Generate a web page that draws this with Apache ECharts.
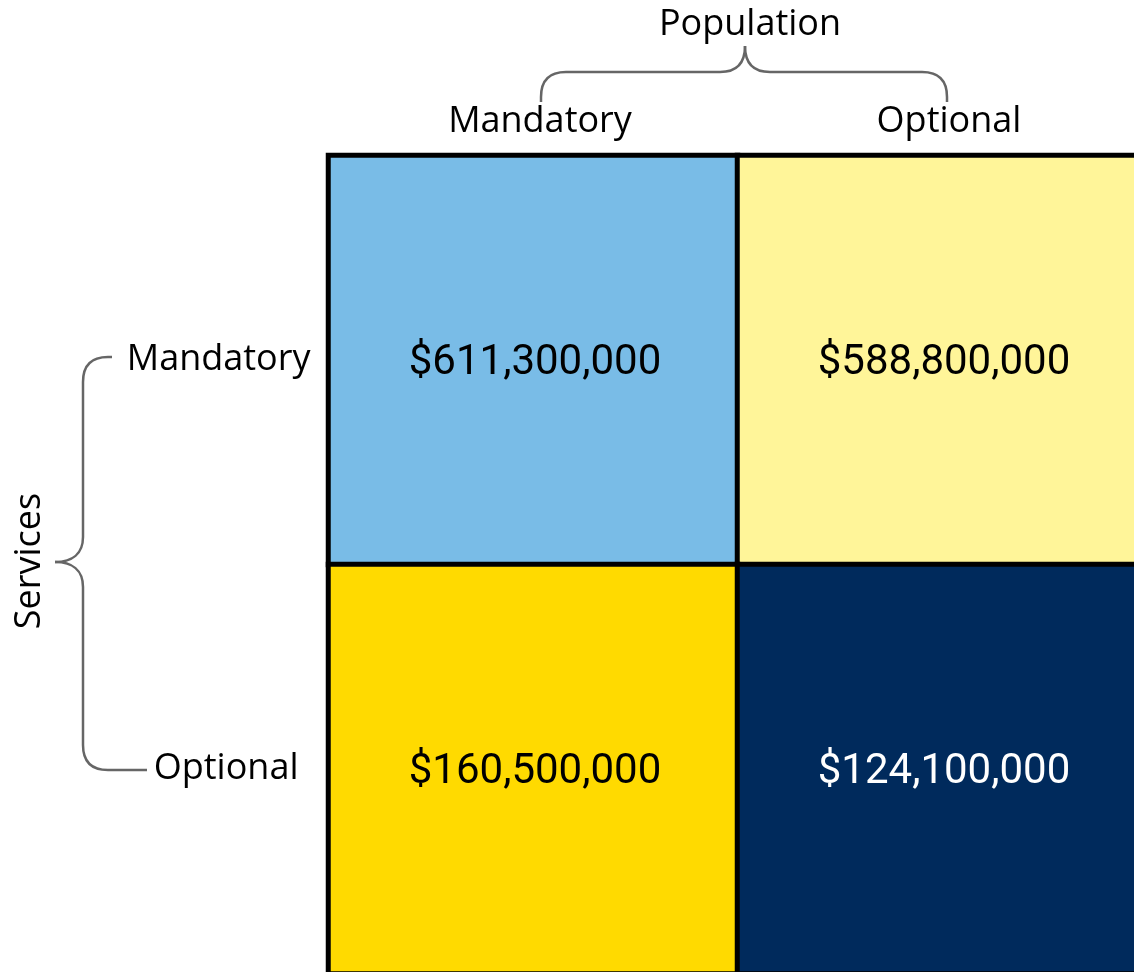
<!DOCTYPE html>
<html>
<head>
<meta charset="utf-8">
<script src="https://cdn.jsdelivr.net/npm/echarts@6/dist/echarts.min.js"></script>
<style>html,body{margin:0;padding:0;background:#fff}#c{width:1134px;height:972px}</style>
</head>
<body>
<div id="c"></div>
<script>
// ---- data ----
const populationCats = ['Mandatory', 'Optional'];   // columns (x)
const serviceCats = ['Mandatory', 'Optional'];      // rows (y)
// values: [populationIndex, serviceIndex, dollars]
const cellValues = [
  [0, 0, 611300000],
  [1, 0, 588800000],
  [0, 1, 160500000],
  [1, 1, 124100000]
];
const xTitle = 'Population';
const yTitle = 'Services';

// ---- styles ----
const cellColors = ['#79BCE7', '#FFF599', '#FFDA00', '#002A5C'];
const labelColors = ['#000', '#000', '#000', '#fff'];
const labelFont = '"Open Sans", "Noto Sans", sans-serif';
const braceStyle = { fill: null, stroke: '#666', lineWidth: 2.5 };

function L(x1, y1, x2, y2) { return { type: 'line', shape: { x1, y1, x2, y2 }, style: braceStyle, silent: true }; }
function Q(x1, y1, cx, cy, x2, y2) { return { type: 'bezierCurve', shape: { x1, y1, cpx1: cx, cpy1: cy, x2, y2 }, style: braceStyle, silent: true }; }
function C(x1, y1, c1x, c1y, c2x, c2y, x2, y2) { return { type: 'bezierCurve', shape: { x1, y1, cpx1: c1x, cpy1: c1y, cpx2: c2x, cpy2: c2y, x2, y2 }, style: braceStyle, silent: true }; }

const topBrace = [
  L(541, 102, 541, 97), Q(541, 97, 541, 72, 566, 72), L(566, 72, 720, 72),
  C(720, 72, 738, 72, 745, 62, 745, 46), C(745, 46, 745, 62, 752, 72, 770, 72),
  L(770, 72, 922, 72), Q(922, 72, 947, 72, 947, 97), L(947, 97, 947, 102)
];
const leftBrace = [
  L(112, 357, 108, 357), Q(108, 357, 83, 357, 83, 382), L(83, 382, 83, 537),
  C(83, 537, 83, 554, 72, 562, 55, 562), C(55, 562, 72, 562, 83, 570, 83, 587),
  L(83, 587, 83, 745), Q(83, 745, 83, 770, 108, 770), L(108, 770, 147, 770)
];

const chart = echarts.init(document.getElementById('c'));
const fmt = v => '$' + v.toLocaleString('en-US');

chart.setOption({
  animation: false,
  grid: { left: 328.5, top: 155.5, width: 818, height: 818, containLabel: false, outerBoundsMode: 'none' },
  xAxis: {
    type: 'category', position: 'top',
    data: populationCats.map(c => ({ value: c, textStyle: { padding: [0, 0, 0, 14] } })),
    axisLine: { show: false }, axisTick: { show: false }, splitLine: { show: false },
    axisLabel: { color: '#000', fontFamily: labelFont, fontSize: 36, margin: 16 }
  },
  yAxis: {
    type: 'category', inverse: true,
    data: [
      { value: serviceCats[0], textStyle: { padding: [0, 0, 0, 0] } },
      { value: serviceCats[1], textStyle: { padding: [0, 12, 0, 0] } }
    ],
    axisLine: { show: false }, axisTick: { show: false }, splitLine: { show: false },
    axisLabel: { color: '#000', fontFamily: labelFont, fontSize: 36, margin: 18 }
  },
  series: [{
    type: 'heatmap',
    data: cellValues.map((d, i) => ({
      value: d,
      itemStyle: { color: cellColors[i] },
      label: { color: labelColors[i] }
    })),
    itemStyle: { borderColor: '#000', borderWidth: 5 },
    label: {
      show: true,
      formatter: p => fmt(p.value[2]),
      fontFamily: 'Roboto, sans-serif', fontSize: 42,
      offset: [2, 3]
    },
    emphasis: { disabled: true }
  }],
  graphic: [
    {
      type: 'text', x: 750, y: 25, silent: true,
      style: { text: xTitle, fill: '#000', font: '36px ' + labelFont, textAlign: 'center', textVerticalAlign: 'middle' }
    },
    {
      type: 'text', x: 30, y: 561, rotation: Math.PI / 2, silent: true,
      style: { text: yTitle, fill: '#000', font: '36px ' + labelFont, textAlign: 'center', textVerticalAlign: 'middle' }
    }
  ].concat(topBrace, leftBrace)
});
</script>
</body>
</html>
